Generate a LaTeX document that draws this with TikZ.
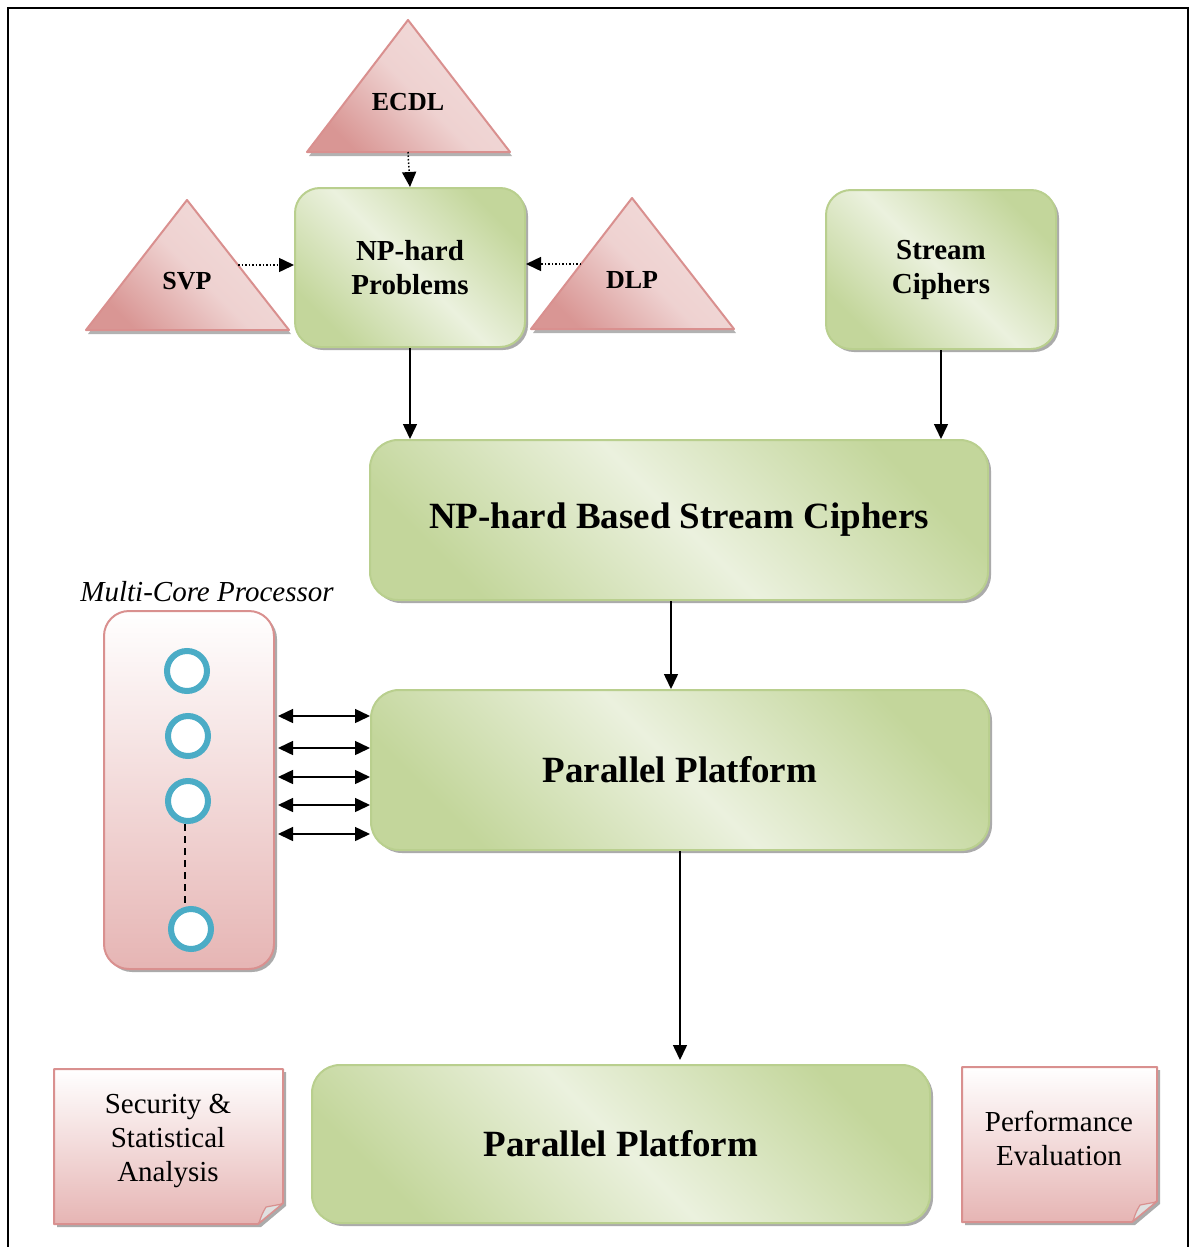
\documentclass[tikz,border=0pt]{standalone}
\usepackage{fontspec}
\setmainfont{Liberation Serif}
\usetikzlibrary{arrows.meta,shadows}
\definecolor{grL}{HTML}{EBF1DE}
\definecolor{grD}{HTML}{C3D69B}
\definecolor{grE}{HTML}{B9CF8E}
\definecolor{pkL}{HTML}{F2DCDB}
\definecolor{pkD}{HTML}{D99694}
\definecolor{pkE}{HTML}{D9908F}
\definecolor{pkB}{HTML}{E6B5B4}
\definecolor{core}{HTML}{4BACC6}
\begin{document}
\begin{tikzpicture}[x=1pt,y=-1pt,
  shd/.style={drop shadow={shadow xshift=3pt,shadow yshift=-3pt,fill=black!60,opacity=.55}},
  greenbox/.style={draw=grE,line width=2pt,rounded corners=25pt,
    top color=grD,bottom color=grD,middle color=grL,shading angle=-45,
    shd,align=center,inner sep=0pt},
  tri/.style={draw=pkE,line width=2pt,line join=round,
    top color=pkL,bottom color=pkD,middle color=pkL!85!pkD,shading angle=-45,
    drop shadow={shadow xshift=2pt,shadow yshift=-4pt,fill=black!60,opacity=.5}},
  note/.style={draw=pkE,line width=2pt,line join=round,top color=white,bottom color=pkB,
    shd},
  bigtxt/.style={font=\fontsize{37}{40}\selectfont\bfseries},
  midtxt/.style={font=\fontsize{29}{34}\selectfont\bfseries,align=center},
  tritxt/.style={font=\fontsize{26}{30}\selectfont\bfseries},
  regtxt/.style={font=\fontsize{29}{34}\selectfont,align=center},
  arr/.style={line width=1.5pt,-{Triangle[length=15pt,width=14pt]}},
  dotarr/.style={arr,dotted},
  darr/.style={line width=1.5pt,{Triangle[length=15pt,width=14pt]}-{Triangle[length=15pt,width=14pt]}},
  corenode/.style={circle,draw=core,line width=6pt,fill=white,minimum size=40pt,inner sep=0pt}
]
\useasboundingbox (0,0) rectangle (1192,1247);

% outer frame
\draw[line width=1.5pt] (8,1247) -- (8,8) -- (1188,8) -- (1188,1247);

% hard problems (triangles)
\path[tri] (408,20) -- (510,152) -- (307,152) -- cycle;
\node[tritxt] (ecdl) at (408,102) {ECDL};
\coordinate (ecdlB) at (408,152);

\path[tri] (187,200) -- (289,330) -- (86,330) -- cycle;
\node[tritxt] (svp) at (187,281) {SVP};
\coordinate (svpR) at (238,265);

\path[tri] (632,198) -- (734,329) -- (531,329) -- cycle;
\node[tritxt] (dlp) at (632,280) {DLP};
\coordinate (dlpL) at (581,264);

% green process boxes
\node[greenbox,midtxt,minimum width=230pt,minimum height=159pt] (np) at (410,267.5) {NP-hard\\Problems};
\node[greenbox,midtxt,minimum width=230pt,minimum height=159pt] (sc) at (941,269.5) {Stream\\Ciphers};
\node[greenbox,bigtxt,minimum width=618pt,minimum height=160pt,rounded corners=28pt] (nbs) at (679,520) {NP-hard Based Stream Ciphers};
\node[greenbox,bigtxt,minimum width=618pt,minimum height=160pt,rounded corners=28pt] (pp1) at (680,770) {Parallel Platform};
\node[greenbox,bigtxt,minimum width=618pt,minimum height=158pt,rounded corners=28pt] (pp2) at (621,1144) {Parallel Platform};

% multi-core processor
\node[draw=pkE,line width=2pt,rounded corners=25pt,top color=white,bottom color=pkB,shd,
  minimum width=170pt,minimum height=358pt] (mc) at (189,790) {};
\node[font=\fontsize{29}{34}\selectfont\itshape] (mclab) at (207,592) {Multi-Core Processor};
\node[corenode] (c1) at (187,671) {};
\node[corenode] (c2) at (188,736) {};
\node[corenode] (c3) at (188,801) {};
\node[corenode] (c4) at (191,929) {};
\draw[line width=1.5pt,dash pattern=on 7pt off 5pt] (c3.south -| 185,0) -- (c4.north -| 185,0);

% evaluation notes
\path[note] (54,1069) -- (283,1069) -- (283,1203) -- (258,1224) -- (54,1224) -- cycle;
\filldraw[fill=black!12,draw=pkE,line width=1.2pt,line join=round]
  (282,1204) -- (259,1223) .. controls (262,1214) .. (266,1207) -- cycle;
\node[regtxt] (sec) at (168,1141) {Security \&\\Statistical\\Analysis};

\path[note] (962,1067) -- (1157,1067) -- (1157,1201) -- (1132,1222) -- (962,1222) -- cycle;
\filldraw[fill=black!12,draw=pkE,line width=1.2pt,line join=round]
  (1156,1202) -- (1133,1221) .. controls (1136,1212) .. (1140,1205) -- cycle;
\node[regtxt] (perf) at (1059,1138) {Performance\\Evaluation};

% connectors
\draw[dotarr] (ecdlB) -- (np.north);
\draw[dotarr] (svpR) -- (svpR -| np.west);
\draw[dotarr] (dlpL) -- (dlpL -| np.east);
\draw[arr] (np.south) -- (np.south |- nbs.north);
\draw[arr] (sc.south) -- (sc.south |- nbs.north);
\draw[arr] ([xshift=-8pt]nbs.south) -- ([xshift=-9pt]pp1.north);
\draw[arr,shorten >=4pt] (pp1.south) -- (pp1.south |- pp2.north);
\foreach \y in {716,748,777,805,834}
  \draw[darr,shorten <=3pt] (mc.east |- 0,\y) -- (pp1.west |- 0,\y);
\end{tikzpicture}
\end{document}
